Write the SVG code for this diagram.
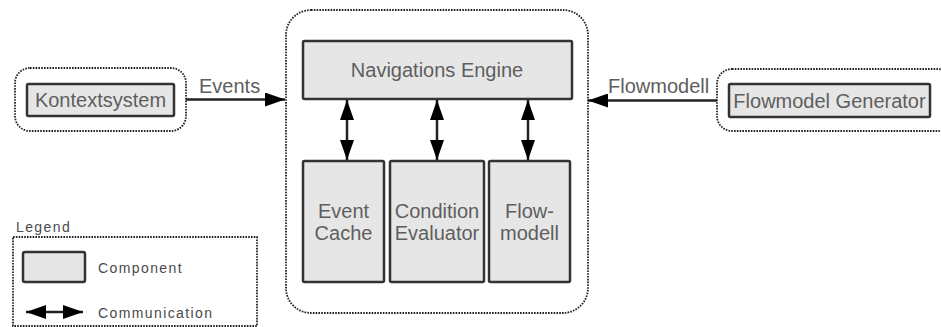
<svg xmlns="http://www.w3.org/2000/svg" width="941" height="327" viewBox="0 0 941 327">
  <style>
    .comp { fill: #e6e6e6; stroke: #333; stroke-width: 2.5; }
    .group { fill: none; stroke: #222; stroke-width: 1.8; stroke-dasharray: 1.6 1.2; }
    .label { font-family: "Liberation Sans", Arial, sans-serif; font-size: 20px; fill: #5e5e5e; }
    .mid { text-anchor: middle; }
    .small { font-family: "Liberation Sans", Arial, sans-serif; font-size: 14px; fill: #4a4a4a; letter-spacing: 1.4px; }
    .wire { fill: none; stroke: #222; stroke-width: 2.5; }
  </style>
  <defs>
    <marker id="head" viewBox="0 0 20 14" markerWidth="20" markerHeight="14" refX="20" refY="7" orient="auto-start-reverse" markerUnits="userSpaceOnUse">
      <path d="M0,0 L20,7 L0,14 z" fill="#000"/>
    </marker>
  </defs>
  <rect width="941" height="327" fill="#fff"/>

  <!-- main container -->
  <g id="navigation-system">
    <rect class="group" x="286" y="10" width="302" height="303" rx="25"/>
  </g>

  <g id="navigations-engine">
    <rect class="comp" x="303" y="41" width="269" height="58" rx="1.5"/>
    <text class="label mid" x="437" y="77">Navigations Engine</text>
  </g>

  <g id="event-cache">
    <rect class="comp" x="303" y="161" width="81" height="121" rx="1.5"/>
    <text class="label mid" x="343.5" y="218">Event</text>
    <text class="label mid" x="343.5" y="240">Cache</text>
  </g>

  <g id="condition-evaluator">
    <rect class="comp" x="390" y="161" width="94" height="121" rx="1.5"/>
    <text class="label mid" x="437" y="218">Condition</text>
    <text class="label mid" x="437" y="240">Evaluator</text>
  </g>

  <g id="flowmodell">
    <rect class="comp" x="489" y="161" width="81" height="121" rx="1.5"/>
    <text class="label mid" x="529.5" y="218">Flow-</text>
    <text class="label mid" x="529.5" y="240">modell</text>
  </g>

  <!-- external sources -->
  <g id="kontextsystem">
    <rect class="group" x="15" y="68" width="171" height="63" rx="15"/>
    <rect class="comp" x="27" y="84" width="147" height="32" rx="1.5"/>
    <text class="label mid" x="100.5" y="107">Kontextsystem</text>
  </g>

  <g id="flowmodel-generator">
    <rect class="group" x="717" y="69" width="236" height="62" rx="15"/>
    <rect class="comp" x="729" y="84" width="201" height="33" rx="1.5"/>
    <text class="label mid" x="829.5" y="108">Flowmodel Generator</text>
  </g>

  <!-- connectors -->
  <g id="connectors">
    <line class="wire" x1="186" y1="99.5" x2="285" y2="99.5" marker-end="url(#head)"/>
    <text class="label" x="199" y="93">Events</text>
    <line class="wire" x1="717" y1="100.5" x2="588" y2="100.5" marker-end="url(#head)"/>
    <text class="label" x="608" y="93">Flowmodell</text>
    <line class="wire" x1="347" y1="100" x2="347" y2="160" marker-start="url(#head)" marker-end="url(#head)"/>
    <line class="wire" x1="437" y1="100" x2="437" y2="160" marker-start="url(#head)" marker-end="url(#head)"/>
    <line class="wire" x1="528" y1="100" x2="528" y2="160" marker-start="url(#head)" marker-end="url(#head)"/>
  </g>

  <!-- legend -->
  <g id="legend">
    <text class="small" x="16" y="232">Legend</text>
    <rect class="group" x="13" y="237" width="244" height="89"/>
    <rect class="comp" x="23" y="252" width="62" height="30" rx="2"/>
    <text class="small" x="98" y="273">Component</text>
    <line class="wire" x1="26" y1="312" x2="83" y2="312" marker-start="url(#head)" marker-end="url(#head)"/>
    <text class="small" x="98" y="318">Communication</text>
  </g>
</svg>
